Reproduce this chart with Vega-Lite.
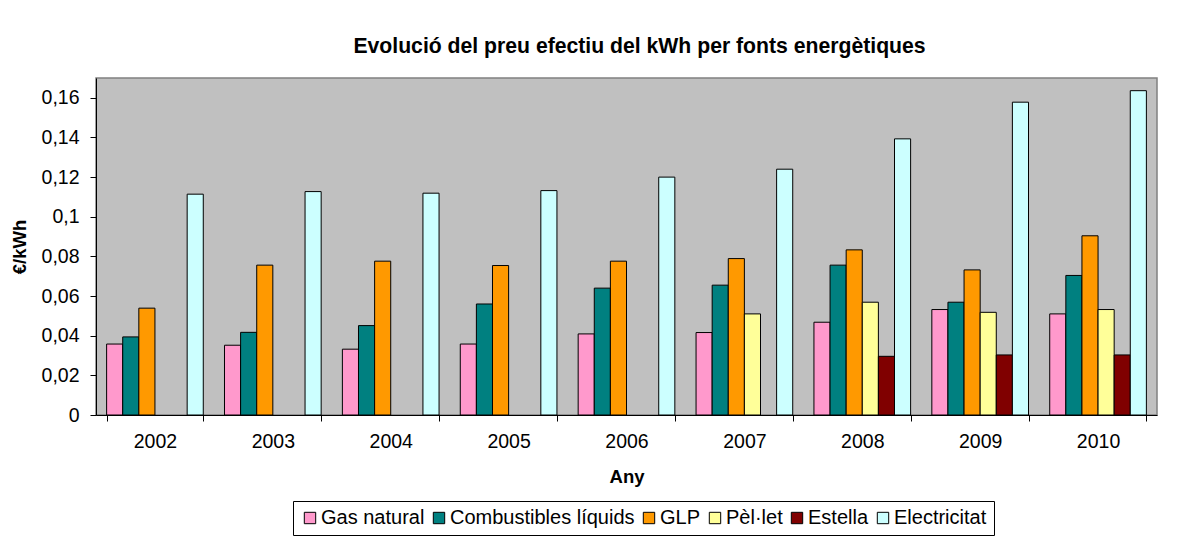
{
  "$schema": "https://vega.github.io/schema/vega-lite/v6.json",
  "width": 1061,
  "height": 337,
  "autosize": {"type": "none"},
  "padding": {"left": 96, "top": 78, "right": 28, "bottom": 130},
  "background": "white",
  "config": {
    "locale": {"number": {"decimal": ",", "thousands": ".", "grouping": [3], "currency": ["", " €"]}},
    "font": "Liberation Sans",
    "view": {"fill": "#C0C0C0", "stroke": "#808080", "strokeWidth": 1.5},
    "axis": {"grid": false, "labelFont": "Liberation Sans", "labelFontSize": 19.5, "labelColor": "black", "titleFont": "Liberation Sans", "titleFontSize": 18.5, "titleFontWeight": "bold", "titleColor": "black", "domainColor": "black", "tickColor": "black", "tickSize": 6, "domainWidth": 1, "tickWidth": 1}
  },
  "title": {"text": "Evolució del preu efectiu del kWh per fonts energètiques", "font": "Liberation Sans", "fontSize": 21.2, "fontWeight": "bold", "color": "black", "anchor": "middle", "offset": 21, "dx": 13},
  "data": {"values": [
    {"Any": "2002", "Font": "Gas natural", "Preu": 0.0358},
    {"Any": "2002", "Font": "Combustibles líquids", "Preu": 0.0394},
    {"Any": "2002", "Font": "GLP", "Preu": 0.0539},
    {"Any": "2002", "Font": "Electricitat", "Preu": 0.1114},
    {"Any": "2003", "Font": "Gas natural", "Preu": 0.0352},
    {"Any": "2003", "Font": "Combustibles líquids", "Preu": 0.0417},
    {"Any": "2003", "Font": "GLP", "Preu": 0.0756},
    {"Any": "2003", "Font": "Electricitat", "Preu": 0.1127},
    {"Any": "2004", "Font": "Gas natural", "Preu": 0.0332},
    {"Any": "2004", "Font": "Combustibles líquids", "Preu": 0.0451},
    {"Any": "2004", "Font": "GLP", "Preu": 0.0776},
    {"Any": "2004", "Font": "Electricitat", "Preu": 0.1119},
    {"Any": "2005", "Font": "Gas natural", "Preu": 0.0358},
    {"Any": "2005", "Font": "Combustibles líquids", "Preu": 0.0560},
    {"Any": "2005", "Font": "GLP", "Preu": 0.0754},
    {"Any": "2005", "Font": "Electricitat", "Preu": 0.1132},
    {"Any": "2006", "Font": "Gas natural", "Preu": 0.0409},
    {"Any": "2006", "Font": "Combustibles líquids", "Preu": 0.0640},
    {"Any": "2006", "Font": "GLP", "Preu": 0.0776},
    {"Any": "2006", "Font": "Electricitat", "Preu": 0.1200},
    {"Any": "2007", "Font": "Gas natural", "Preu": 0.0416},
    {"Any": "2007", "Font": "Combustibles líquids", "Preu": 0.0655},
    {"Any": "2007", "Font": "GLP", "Preu": 0.0789},
    {"Any": "2007", "Font": "Pèl·let", "Preu": 0.0510},
    {"Any": "2007", "Font": "Electricitat", "Preu": 0.1240},
    {"Any": "2008", "Font": "Gas natural", "Preu": 0.0468},
    {"Any": "2008", "Font": "Combustibles líquids", "Preu": 0.0756},
    {"Any": "2008", "Font": "GLP", "Preu": 0.0833},
    {"Any": "2008", "Font": "Pèl·let", "Preu": 0.0569},
    {"Any": "2008", "Font": "Estella", "Preu": 0.0296},
    {"Any": "2008", "Font": "Electricitat", "Preu": 0.1393},
    {"Any": "2009", "Font": "Gas natural", "Preu": 0.0532},
    {"Any": "2009", "Font": "Combustibles líquids", "Preu": 0.0569},
    {"Any": "2009", "Font": "GLP", "Preu": 0.0732},
    {"Any": "2009", "Font": "Pèl·let", "Preu": 0.0518},
    {"Any": "2009", "Font": "Estella", "Preu": 0.0303},
    {"Any": "2009", "Font": "Electricitat", "Preu": 0.1578},
    {"Any": "2010", "Font": "Gas natural", "Preu": 0.0510},
    {"Any": "2010", "Font": "Combustibles líquids", "Preu": 0.0704},
    {"Any": "2010", "Font": "GLP", "Preu": 0.0904},
    {"Any": "2010", "Font": "Pèl·let", "Preu": 0.0532},
    {"Any": "2010", "Font": "Estella", "Preu": 0.0303},
    {"Any": "2010", "Font": "Electricitat", "Preu": 0.1636}
  ]},
  "mark": {"type": "bar", "stroke": "black", "strokeWidth": 1, "opacity": 1},
  "encoding": {
    "x": {
      "field": "Any", "type": "nominal",
      "scale": {"paddingInner": 0.18, "paddingOuter": 0.09},
      "axis": {"title": "Any", "labelAngle": 0, "tickBand": "extent", "labelPadding": 11, "titlePadding": 17}
    },
    "xOffset": {
      "field": "Font", "type": "nominal",
      "scale": {"domain": ["Gas natural", "Combustibles líquids", "GLP", "Pèl·let", "Estella", "Electricitat"], "paddingInner": 0, "paddingOuter": 0}
    },
    "y": {
      "field": "Preu", "type": "quantitative",
      "scale": {"domain": [0, 0.17], "nice": false, "zero": true},
      "axis": {"title": "€/kWh", "values": [0, 0.02, 0.04, 0.06, 0.08, 0.1, 0.12, 0.14, 0.16], "format": "~g", "labelPadding": 11, "titlePadding": 12}
    },
    "color": {
      "field": "Font", "type": "nominal",
      "scale": {"domain": ["Gas natural", "Combustibles líquids", "GLP", "Pèl·let", "Estella", "Electricitat"], "range": ["#FF99CC", "#008080", "#FF9900", "#FFFF99", "#800000", "#CCFFFF"]},
      "legend": {
        "title": null, "orient": "none", "legendX": 197, "legendY": 423, "direction": "horizontal", "columns": 6,
        "symbolType": "square", "symbolSize": 130, "symbolStrokeColor": "black", "symbolStrokeWidth": 1, "symbolOpacity": 1,
        "labelFont": "Liberation Sans", "labelFontSize": 20, "labelColor": "black", "labelOffset": 1, "columnPadding": 4,
        "strokeColor": "black", "padding": 7, "fillColor": "white", "labelLimit": 300
      }
    }
  }
}
